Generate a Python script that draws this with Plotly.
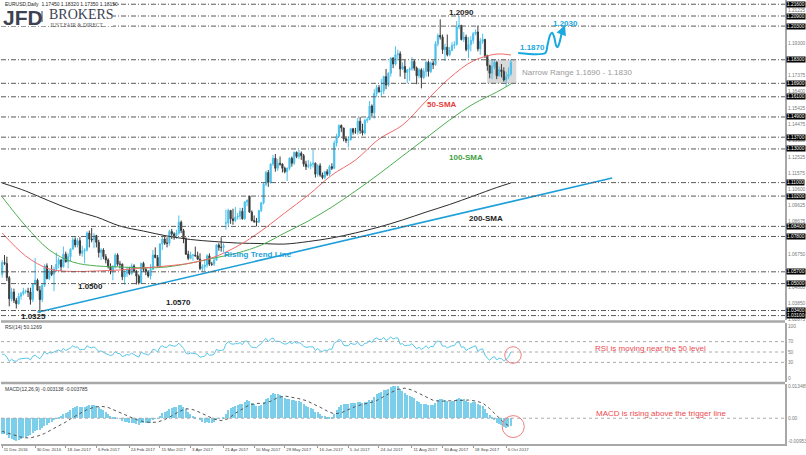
import plotly.graph_objects as go

# ---------------- DATA ----------------
open_ = [
    1.0555,1.0625,1.0620,1.0535,1.0410,1.0450,1.0400,1.0380,1.0425,1.0440,1.0455,1.0455,1.0450,1.0405,1.0495,
    1.0520,1.0460,1.0405,1.0490,1.0605,1.0530,1.0575,1.0555,1.0585,1.0615,1.0640,1.0600,1.0675,1.0630,1.0660,1.0705,1.0760,1.0730,1.0755,1.0680,1.0695,1.0700,
    1.0800,1.0765,1.0760,1.0785,1.0745,1.0685,1.0700,1.0660,1.0640,1.0600,1.0575,1.0600,1.0670,1.0615,1.0615,1.0540,1.0560,1.0585,1.0560,1.0605,
    1.0575,1.0545,1.0505,1.0620,1.0585,1.0570,1.0545,1.0585,1.0670,1.0655,1.0605,1.0735,1.0765,1.0740,1.0740,1.0810,1.0795,1.0785,1.0800,1.0865,1.0815,1.0765,1.0675,
    1.0650,1.0670,1.0670,1.0665,1.0645,1.0590,1.0600,1.0610,1.0665,1.0615,1.0615,1.0640,1.0730,1.0715,1.0715,1.0860,1.0860,1.0935,1.0885,1.0875,
    1.0895,1.0900,1.0930,1.0885,1.0985,1.1020,1.0925,1.0875,1.0870,1.0865,1.0935,1.0980,1.1090,1.1160,1.1100,1.1210,1.1245,1.1185,1.1215,1.1210,1.1185,1.1165,1.1185,
    1.1245,1.1215,1.1280,1.1255,1.1275,1.1260,1.1210,1.1195,1.1200,1.1210,1.1215,1.1150,1.1200,1.1145,1.1130,1.1165,1.1150,1.1195,1.1185,1.1335,1.1375,1.1440,
    1.1425,1.1360,1.1350,1.1355,1.1420,1.1400,1.1400,1.1465,1.1410,1.1395,1.1470,1.1475,1.1555,1.1515,1.1630,1.1665,1.1640,1.1645,1.1730,1.1680,1.1750,
    1.1840,1.1805,1.1860,1.1865,1.1775,1.1790,1.1755,1.1770,1.1775,1.1820,1.1780,1.1735,1.1770,1.1725,1.1760,1.1815,1.1760,1.1810,1.1800,1.1925,1.1975,1.1965,1.1890,
    1.1905,1.1860,1.1885,1.1915,1.1920,1.2025,1.2035,1.1950,1.1965,1.1890,1.1920,1.1945,1.1985,1.1995,1.1895,1.1940,1.1950,1.1855,1.1795,1.1750,1.1790,
    1.1815,1.1735,1.1770,1.1760,1.1710,1.1730,1.1745,
]
high_ = [
    1.0640,1.0670,1.0660,1.0545,1.0475,1.0470,1.0415,1.0445,1.0450,1.0475,1.0465,1.0475,1.0475,1.0500,1.0652,
    1.0530,1.0485,1.0495,1.0615,1.0620,1.0585,1.0610,1.0600,1.0685,1.0655,1.0645,1.0720,1.0690,1.0680,1.0710,1.0775,1.0775,1.0770,1.0775,1.0725,1.0710,1.0810,
    1.0815,1.0830,1.0800,1.0790,1.0760,1.0710,1.0710,1.0675,1.0650,1.0620,1.0610,1.0680,1.0680,1.0635,1.0620,1.0580,1.0600,1.0600,1.0620,1.0615,
    1.0580,1.0555,1.0625,1.0630,1.0595,1.0580,1.0615,1.0700,1.0715,1.0670,1.0740,1.0780,1.0780,1.0775,1.0820,1.0825,1.0805,1.0820,1.0905,1.0875,1.0825,1.0775,1.0695,
    1.0690,1.0675,1.0720,1.0690,1.0680,1.0615,1.0645,1.0675,1.0680,1.0630,1.0655,1.0735,1.0740,1.0775,1.0740,1.0940,1.0945,1.0935,1.0945,1.0955,
    1.0920,1.0950,1.0950,1.0990,1.1000,1.1020,1.0935,1.0905,1.0890,1.0935,1.0985,1.1100,1.1170,1.1175,1.1215,1.1265,1.1270,1.1240,1.1255,1.1215,1.1195,1.1190,1.1250,
    1.1255,1.1285,1.1285,1.1295,1.1285,1.1270,1.1230,1.1235,1.1225,1.1295,1.1220,1.1210,1.1215,1.1160,1.1170,1.1180,1.1205,1.1215,1.1350,1.1390,1.1445,1.1445,
    1.1425,1.1375,1.1375,1.1425,1.1425,1.1425,1.1485,1.1490,1.1450,1.1480,1.1490,1.1585,1.1565,1.1655,1.1680,1.1680,1.1715,1.1735,1.1775,1.1755,1.1845,
    1.1845,1.1910,1.1890,1.1880,1.1815,1.1830,1.1775,1.1785,1.1845,1.1830,1.1790,1.1780,1.1780,1.1780,1.1825,1.1825,1.1820,1.1825,1.1940,1.1985,1.2070,1.1980,1.1925,
    1.1980,1.1905,1.1935,1.1940,1.2060,1.2092,1.2035,1.1995,1.1980,1.1965,1.1970,1.1995,1.2010,1.2033,1.1960,1.1985,1.1955,1.1860,1.1800,1.1835,1.1830,
    1.1820,1.1790,1.1805,1.1785,1.1760,1.1785,1.1832,
]
low_ = [
    1.0535,1.0610,1.0515,1.0365,1.0395,1.0385,1.0352,1.0375,1.0405,1.0430,1.0440,1.0420,1.0375,1.0390,1.0490,
    1.0455,1.0325,1.0390,1.0480,1.0525,1.0520,1.0545,1.0455,1.0570,1.0590,1.0575,1.0595,1.0625,1.0590,1.0635,1.0700,1.0715,1.0715,1.0665,1.0660,1.0620,1.0690,
    1.0715,1.0745,1.0710,1.0715,1.0655,1.0640,1.0645,1.0620,1.0590,1.0555,1.0520,1.0590,1.0605,1.0590,1.0520,1.0494,1.0540,1.0550,1.0550,1.0565,
    1.0495,1.0495,1.0500,1.0570,1.0550,1.0535,1.0525,1.0580,1.0650,1.0600,1.0600,1.0700,1.0730,1.0715,1.0725,1.0765,1.0760,1.0765,1.0790,1.0800,1.0740,1.0670,1.0640,
    1.0645,1.0635,1.0660,1.0640,1.0580,1.0570,1.0575,1.0595,1.0605,1.0605,1.0605,1.0635,1.0695,1.0690,1.0685,1.0820,1.0840,1.0855,1.0850,1.0865,
    1.0880,1.0880,1.0880,1.0880,1.0960,1.0920,1.0870,1.0860,1.0840,1.0860,1.0925,1.0970,1.1080,1.1075,1.1095,1.1200,1.1165,1.1170,1.1200,1.1160,1.1155,1.1110,1.1175,
    1.1195,1.1205,1.1245,1.1240,1.1235,1.1195,1.1175,1.1185,1.1180,1.1190,1.1130,1.1135,1.1135,1.1120,1.1120,1.1140,1.1140,1.1175,1.1180,1.1315,1.1370,1.1400,
    1.1345,1.1335,1.1310,1.1350,1.1385,1.1390,1.1385,1.1390,1.1380,1.1385,1.1455,1.1470,1.1495,1.1480,1.1610,1.1635,1.1610,1.1625,1.1655,1.1670,1.1730,
    1.1780,1.1795,1.1825,1.1730,1.1770,1.1715,1.1690,1.1705,1.1765,1.1765,1.1685,1.1720,1.1660,1.1715,1.1730,1.1730,1.1750,1.1775,1.1795,1.1910,1.1950,1.1865,1.1823,
    1.1850,1.1850,1.1880,1.1895,1.1915,1.2010,1.1945,1.1935,1.1880,1.1840,1.1880,1.1925,1.1975,1.1880,1.1860,1.1925,1.1840,1.1765,1.1720,1.1715,1.1775,
    1.1715,1.1730,1.1725,1.1700,1.1670,1.1715,1.1735,
]
close_ = [
    1.0625,1.0620,1.0535,1.0410,1.0450,1.0400,1.0380,1.0425,1.0440,1.0455,1.0455,1.0450,1.0405,1.0495,1.0520,
    1.0460,1.0405,1.0490,1.0605,1.0530,1.0575,1.0555,1.0585,1.0615,1.0640,1.0600,1.0675,1.0630,1.0660,1.0705,1.0760,1.0730,1.0755,1.0680,1.0695,1.0700,1.0800,
    1.0765,1.0760,1.0785,1.0745,1.0685,1.0700,1.0660,1.0640,1.0600,1.0575,1.0600,1.0670,1.0615,1.0615,1.0540,1.0560,1.0585,1.0560,1.0605,1.0575,
    1.0545,1.0505,1.0620,1.0585,1.0570,1.0545,1.0585,1.0670,1.0655,1.0605,1.0735,1.0765,1.0740,1.0740,1.0810,1.0795,1.0785,1.0800,1.0865,1.0815,1.0765,1.0675,1.0650,
    1.0670,1.0670,1.0665,1.0645,1.0590,1.0600,1.0610,1.0665,1.0615,1.0615,1.0640,1.0730,1.0715,1.0715,1.0725,1.0860,1.0935,1.0885,1.0875,1.0895,
    1.0900,1.0930,1.0885,1.0985,1.0995,1.0925,1.0875,1.0870,1.0865,1.0935,1.0980,1.1090,1.1160,1.1100,1.1210,1.1245,1.1185,1.1215,1.1210,1.1185,1.1165,1.1185,1.1245,
    1.1215,1.1280,1.1255,1.1275,1.1260,1.1210,1.1195,1.1200,1.1210,1.1215,1.1150,1.1200,1.1145,1.1130,1.1165,1.1150,1.1195,1.1185,1.1335,1.1375,1.1440,1.1425,
    1.1360,1.1350,1.1355,1.1420,1.1400,1.1400,1.1465,1.1410,1.1395,1.1470,1.1475,1.1555,1.1515,1.1630,1.1665,1.1640,1.1645,1.1730,1.1680,1.1750,1.1840,
    1.1805,1.1860,1.1865,1.1775,1.1790,1.1755,1.1770,1.1775,1.1820,1.1780,1.1735,1.1770,1.1725,1.1760,1.1815,1.1760,1.1810,1.1800,1.1925,1.1975,1.1965,1.1890,1.1905,
    1.1860,1.1885,1.1915,1.1920,1.2025,1.2035,1.1950,1.1965,1.1890,1.1920,1.1945,1.1985,1.1995,1.1895,1.1940,1.1950,1.1855,1.1795,1.1750,1.1790,1.1815,
    1.1735,1.1770,1.1760,1.1710,1.1730,1.1745,1.1815,
]

# moving averages at these bar positions
sma_idx = [0,10,20,30,40,50,60,70,80,90,100,110,120,130,140,150,160,170,180,190,200,210,216]
sma50 = [1.0801,1.0664,1.0587,1.0572,1.0575,1.0581,1.0593,1.0605,1.0622,1.0658,1.0723,1.0813,
         1.0920,1.1026,1.1145,1.1234,1.1359,1.1442,1.1585,1.1722,1.1823,1.1864,1.1858]
sma100 = [1.1015,1.0842,1.0700,1.0628,1.0605,1.0599,1.0593,1.0599,1.0622,1.0652,1.0682,1.0729,
          1.0801,1.0872,1.0955,1.1050,1.1151,1.1258,1.1365,1.1472,1.1567,1.1638,1.1686]
sma200 = [1.1098,1.1050,1.0991,1.0937,1.0896,1.0842,1.0812,1.0783,1.0762,1.0750,1.0741,1.0738,
          1.0735,1.0750,1.0771,1.0801,1.0836,1.0878,1.0925,1.0970,1.1020,1.1071,1.1098]

trend_idx = [15, 259]
trend_val = [1.0330, 1.1127]

proj_idx = [219.1, 230.6, 231.6, 232.6, 233.5, 234.4, 235.2, 235.9, 236.7, 237.5]
proj_val = [1.1870, 1.1870, 1.1920, 1.1975, 1.1990, 1.1965, 1.1915, 1.1905, 1.1935, 1.1985]

level_vals = [1.2160,1.2090,1.2030,1.1830,1.1690,1.1610,1.1490,1.1370,1.1300,1.1100,1.1020,
              1.0840,1.0780,1.0570,1.0500,1.0340,1.0310]
level_text = ["1.21600","1.20900","1.20300","1.18300","1.16900","1.16100","1.14900","1.13700",
              "1.13000","1.11000","1.10200","1.08400","1.07800","1.05700","1.05000","1.03400","1.03100"]

price_ticks = [1.21225,1.19300,1.17375,1.16400,1.15425,1.14475,1.13500,1.12525,1.11575,1.10600,
               1.09625,1.08675,1.06750,1.04800,1.03850,1.02875]
price_tick_text = ["1.21225","1.19300","1.17375","1.16400","1.15425","1.14475","1.13500","1.12525",
                   "1.11575","1.10600","1.09625","1.08675","1.06750","1.04800","1.03850","1.02875"]

rsi = [
    46,45,40,32,36,33,32,36,37,38,38,38,35,42,44,
    40,37,43,51,46,49,48,50,52,54,51,57,53,55,58,62,59,60,54,55,55,62,
    59,58,60,56,51,52,49,47,45,43,45,51,47,47,41,43,45,44,48,45,
    43,40,50,47,46,44,48,55,54,50,59,62,59,59,64,62,61,62,67,62,57,48,46,
    48,48,47,45,40,41,42,48,44,44,46,55,53,53,54,65,70,66,65,66,
    66,68,64,71,71,64,59,59,58,63,66,72,76,70,75,77,70,71,70,67,65,66,69,
    66,70,67,68,66,61,59,60,60,60,53,57,52,51,54,52,56,55,67,70,74,72,
    63,62,62,67,65,65,69,63,62,67,67,72,68,75,77,74,74,78,72,75,79,
    75,77,77,65,66,62,63,63,66,61,56,59,55,58,62,57,61,60,68,71,70,61,62,
    58,60,62,62,69,69,59,60,53,56,58,61,62,51,55,56,44,38,34,39,41,
    35,38,37,33,36,40,50.13,
]
rsi_ticks = [100, 70, 50, 30, 0]

macd = [
    -0.0066,-0.0065,-0.0069,-0.0082,-0.0088,-0.0091,-0.009538,-0.0092,-0.0088,-0.0083,-0.0078,-0.0073,-0.0071,-0.0063,-0.0054,
    -0.0051,-0.0050,-0.0043,-0.0031,-0.0027,-0.0020,-0.0015,-0.0009,-0.0001,0.0007,0.0010,0.0019,0.0022,0.0027,0.0034,0.0043,0.0047,0.0051,0.0049,0.0048,0.0047,0.0053,
    0.0054,0.0055,0.0056,0.0053,0.0045,0.0040,0.0033,0.0026,0.0017,0.0008,0.0003,0.0004,0.0000,-0.0003,-0.0011,-0.0016,-0.0017,-0.0020,-0.0018,-0.0019,
    -0.0023,-0.0029,-0.0022,-0.0020,-0.0020,-0.0021,-0.0018,-0.0009,-0.0003,-0.0001,0.0010,0.0021,0.0027,0.0032,0.0040,0.0044,0.0046,0.0048,0.0055,0.0054,0.0049,0.0037,0.0025,
    0.0017,0.0011,0.0006,0.0000,-0.0009,-0.0015,-0.0018,-0.0016,-0.0018,-0.0019,-0.0017,-0.0008,-0.0003,0.0000,0.0004,0.0017,0.0033,0.0041,0.0046,0.0052,
    0.0056,0.0061,0.0061,0.0069,0.0075,0.0072,0.0065,0.0058,0.0052,0.0052,0.0056,0.0068,0.0082,0.0086,0.0096,0.0104,0.0102,0.0101,0.0098,0.0092,0.0085,0.0080,0.0080,
    0.0076,0.0077,0.0074,0.0072,0.0068,0.0060,0.0052,0.0046,0.0041,0.0037,0.0027,0.0024,0.0017,0.0010,0.0008,0.0004,0.0006,0.0006,0.0019,0.0033,0.0048,0.0057,
    0.0058,0.0058,0.0058,0.0062,0.0063,0.0063,0.0068,0.0066,0.0063,0.0066,0.0068,0.0076,0.0078,0.0090,0.0101,0.0106,0.0109,0.0117,0.0118,0.0123,0.0132,
    0.0133,0.013485,0.0134,0.0124,0.0115,0.0105,0.0097,0.0091,0.0089,0.0083,0.0074,0.0069,0.0061,0.0058,0.0059,0.0055,0.0056,0.0055,0.0064,0.0075,0.0082,0.0079,0.0077,
    0.0071,0.0069,0.0070,0.0070,0.0079,0.0086,0.0082,0.0079,0.0070,0.0066,0.0065,0.0066,0.0067,0.0058,0.0054,0.0050,0.0037,0.0022,0.0012,0.0002,-0.0008,
    -0.0018,-0.0024,-0.0030,-0.0036,-0.0040,-0.0037,-0.003138,
]
signal_idx = list(range(0, 217, 3))
signal = [
    -0.0055,-0.0064,-0.0074,-0.0082,-0.0082,-0.0075,-0.0064,-0.0049,-0.0033,-0.0016,0.0003,0.0021,
    0.0036,0.0046,0.0050,0.0045,0.0033,0.0020,0.0006,-0.0006,-0.0014,-0.0018,-0.0016,-0.0006,
    0.0010,0.0027,0.0040,0.0036,0.0024,0.0009,-0.0004,-0.0010,-0.0002,0.0021,0.0040,0.0056,
    0.0062,0.0062,0.0071,0.0086,0.0093,0.0089,0.0082,0.0074,0.0061,0.0046,0.0030,0.0018,
    0.0023,0.0036,0.0049,0.0058,0.0064,0.0074,0.0091,0.0107,0.0121,0.0126,0.0118,0.0104,
    0.0088,0.0075,0.0071,0.0073,0.0073,0.0076,0.0076,0.0072,0.0064,0.0040,0.0012,-0.0018,-0.003785,
]
macd_ticks = [0.013485, 0.0, -0.009538]
macd_tick_text = ["0.013485", "0.00", "-0.009538"]

date_idx = [0,14,27,40,54,67,80,94,107,120,134,147,160,174,187,200,214]
date_text = ["11 Dec 2016","30 Dec 2016","18 Jan 2017","6 Feb 2017","24 Feb 2017","15 Mar 2017",
             "3 Apr 2017","21 Apr 2017","10 May 2017","29 May 2017","16 Jun 2017","5 Jul 2017",
             "24 Jul 2017","11 Aug 2017","30 Aug 2017","18 Sep 2017","6 Oct 2017"]

# ---------------- STYLE ----------------
UP = "#4cc0ea"
DN = "#3b3b3b"
BLUE = "#1d9fd9"
RED = "#ee4a50"
H = 444.0   # plot area height in px
W = 784.0   # plot area width in px

def py(p):
    return (H - p) / H

def px(x):
    return (x - 1) / W

x = list(range(len(close_)))

fig = go.Figure()
fig.add_trace(go.Candlestick(
    x=x, open=open_, high=high_, low=low_, close=close_, xaxis="x", yaxis="y",
    increasing=dict(line=dict(color=UP, width=1), fillcolor=UP),
    decreasing=dict(line=dict(color=DN, width=1), fillcolor=DN),
    whiskerwidth=0, hoverinfo="skip"))
fig.add_trace(go.Scatter(x=sma_idx, y=sma200, mode="lines", yaxis="y",
                         line=dict(color="#2b2b2b", width=1, shape="spline"), hoverinfo="skip"))
fig.add_trace(go.Scatter(x=sma_idx, y=sma100, mode="lines", yaxis="y",
                         line=dict(color="#4caf50", width=1, shape="spline"), hoverinfo="skip"))
fig.add_trace(go.Scatter(x=sma_idx, y=sma50, mode="lines", yaxis="y",
                         line=dict(color="#f06a6a", width=1, shape="spline"), hoverinfo="skip"))
fig.add_trace(go.Scatter(x=trend_idx, y=trend_val, mode="lines", yaxis="y",
                         line=dict(color=BLUE, width=1.6), hoverinfo="skip"))
fig.add_trace(go.Scatter(x=proj_idx, y=proj_val, mode="lines", yaxis="y",
                         line=dict(color="#1aa8e0", width=2, shape="spline", smoothing=0.8),
                         hoverinfo="skip"))
fig.add_trace(go.Scatter(x=x, y=rsi, mode="lines", yaxis="y2",
                         line=dict(color="#56c6ea", width=1), hoverinfo="skip"))
fig.add_trace(go.Bar(x=x, y=macd, yaxis="y3", width=0.5,
                     marker=dict(color="#7ccfeb", line=dict(width=0)), hoverinfo="skip"))
fig.add_trace(go.Scatter(x=signal_idx, y=signal, mode="lines", yaxis="y3",
                         line=dict(color="#555555", width=1, dash="dot"), hoverinfo="skip"))

axis_common = dict(showgrid=False, zeroline=False, fixedrange=True, side="right", anchor="x",
                   showline=True, linecolor="#a8a8a8", linewidth=2, ticks="", automargin=False,
                   tickfont=dict(size=4.8, color="#7a7a7a"))

shapes = []
for v in level_vals:
    shapes.append(dict(type="line", xref="paper", yref="y", x0=0, x1=1, y0=v, y1=v,
                       line=dict(color="#5a5a5a", width=1, dash="5px,2px,1px,2px")))
# logo background
shapes.append(dict(type="rect", xref="paper", yref="paper", x0=0, x1=px(113), y0=py(26), y1=1,
                   fillcolor="white", line=dict(width=0)))
shapes.append(dict(type="line", xref="paper", yref="paper", x0=px(42), x1=px(42), y0=py(22), y1=py(11),
                   line=dict(color="#3c4252", width=1)))
# narrow range box
shapes.append(dict(type="rect", xref="x", yref="y", x0=205.9, x1=218.3, y0=1.1690, y1=1.1830,
                   fillcolor="rgba(185,185,185,0.55)", line=dict(width=0), layer="below"))
# panel separators
for p in (321.5, 383.0):
    shapes.append(dict(type="line", xref="paper", yref="paper", x0=0, x1=1, y0=py(p), y1=py(p),
                       line=dict(color="#a8a8a8", width=2.5)))
for v in (70, 50, 30):
    shapes.append(dict(type="line", xref="paper", yref="y2", x0=0, x1=1, y0=v, y1=v,
                       line=dict(color="#aaaaaa", width=1, dash="dot")))
shapes.append(dict(type="line", xref="paper", yref="y3", x0=0, x1=1, y0=0, y1=0,
                   line=dict(color="#aaaaaa", width=1, dash="dot")))
# highlight circles
shapes.append(dict(type="circle", xref="x", yref="y2", x0=213.4, x1=220.4, y0=28.2, y1=60.2,
                   line=dict(color="#ef7f7f", width=1)))
shapes.append(dict(type="circle", xref="x", yref="y3", x0=212.3, x1=221.7, y0=-0.0081, y1=0.0011,
                   line=dict(color="#ef7f7f", width=1)))

ann = []
for v, t in zip(level_vals, level_text):
    ann.append(dict(xref="paper", yref="y", x=1, y=v, xanchor="left", yanchor="middle", xshift=1,
                    text=t, showarrow=False, bgcolor="#000000", borderpad=0,
                    font=dict(size=4.8, color="white")))

def lab(xv, yv, text, color, yref="y", size=8, xanchor="center"):
    ann.append(dict(xref="x", yref=yref, x=xv, y=yv, text=text, showarrow=False,
                    xanchor=xanchor, yanchor="middle", font=dict(size=size, color=color)))

lab(195, 1.2108, "<b>1.2090</b>", "#222222")
lab(186.8, 1.1567, "<b>50-SMA</b>", "#e83b3b")
lab(197.0, 1.1252, "<b>100-SMA</b>", "#3f9f3f")
lab(205.5, 1.0884, "<b>200-SMA</b>", "#222222")
lab(108.7, 1.0672, "<b>Rising Trend Line</b>", BLUE)
lab(37.4, 1.0480, "<b>1.0500</b>", "#222222")
lab(74.7, 1.0385, "<b>1.0570</b>", "#222222")
lab(13.2, 1.0307, "<b>1.0325</b>", "#222222")
lab(225.3, 1.1900, "<b>1.1870</b>", "#1aa8e0")
lab(239.3, 1.2048, "<b>1.2030</b>", "#1aa8e0")
lab(219.8, 1.1757, "Narrow Range 1.1690 - 1.1830", "#9a9a9a", xanchor="left")
lab(251.0, 57.7, "RSI is moving near the 50 level", RED, yref="y2", xanchor="left")
lab(251.4, 0.0021, "MACD is rising above the trigger line", RED, yref="y3", xanchor="left")

ann.append(dict(xref="x", yref="y", x=239.0, y=1.2036, ax=237.5, ay=1.1985, axref="x", ayref="y",
                text="", showarrow=True, arrowhead=2, arrowsize=1, arrowwidth=2,
                arrowcolor="#1aa8e0", standoff=0, startstandoff=0))

def ptxt(xp, yp, text, size, color, family=None, xanchor="left"):
    f = dict(size=size, color=color)
    if family:
        f["family"] = family
    ann.append(dict(xref="paper", yref="paper", x=px(xp), y=py(yp), text=text, showarrow=False,
                    xanchor=xanchor, yanchor="middle", font=f))

ptxt(3, 4.5, "EURUSD,Daily  1.17450 1.18320 1.17350 1.18150", 5, "#222222")
ptxt(1, 17, "<b>JFD</b>", 21, "#3c4252", family="Liberation Sans, Arial")
ptxt(47, 15, "BROKERS", 14, "#3c4252", family="Liberation Serif, Times New Roman")
ptxt(47.5, 24.5, "JUST FAIR &amp; DIRECT", 5.5, "#555555", family="Liberation Serif, Times New Roman")
ptxt(3, 327, "RSI(14) 50.1269", 5, "#333333")
ptxt(3, 388.5, "MACD(12,26,9) -0.003138 -0.003785", 5, "#333333")

fig.update_layout(
    width=806, height=455, margin=dict(l=1, r=21, t=0, b=11, autoexpand=False),
    paper_bgcolor="white", plot_bgcolor="white", showlegend=False,
    font=dict(family="Liberation Sans, Arial, sans-serif"),
    bargap=0,
    xaxis=dict(domain=[0, 1], range=[-0.5, 332.4], anchor="y3", showgrid=False, zeroline=False,
               fixedrange=True, tickmode="array", tickvals=date_idx, ticktext=date_text,
               tickangle=0, automargin=False,
               ticks="outside", ticklen=2, tickcolor="#999999",
               tickfont=dict(size=4.3, color="#444444"), ticklabelposition="outside right",
               showline=True, linecolor="#a8a8a8", linewidth=2,
               rangeslider=dict(visible=False)),
    yaxis=dict(domain=[py(320), 1], range=[1.02837, 1.21851], tickmode="array",
               tickvals=price_ticks, ticktext=price_tick_text, **axis_common),
    yaxis2=dict(domain=[py(382), py(323)], range=[-7.69, 105.77], tickmode="array",
                tickvals=rsi_ticks, ticktext=[str(v) for v in rsi_ticks], **axis_common),
    yaxis3=dict(domain=[0, py(384)], range=[-0.010794, 0.014322], tickmode="array",
                tickvals=macd_ticks, ticktext=macd_tick_text, **axis_common),
    shapes=shapes, annotations=ann,
)

fig.write_html("out.html", config={"displayModeBar": False})
